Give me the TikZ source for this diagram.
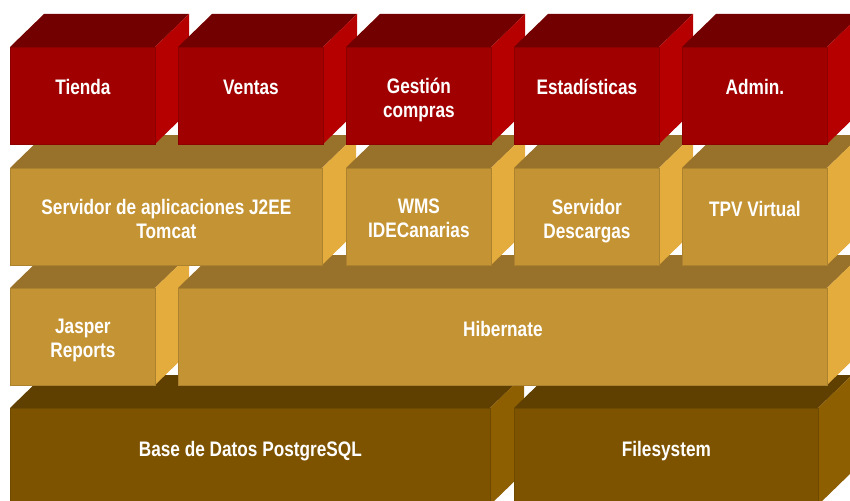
\documentclass[tikz,border=0pt]{standalone}
\usepackage{fontspec}
\setmainfont{Liberation Sans}[FakeStretch=0.82]
\definecolor{rfront}{HTML}{A00000}
\definecolor{rtop}{HTML}{730000}
\definecolor{rside}{HTML}{B60000}
\definecolor{gfront}{HTML}{C49434}
\definecolor{gtop}{HTML}{98722A}
\definecolor{gside}{HTML}{E4AC3C}
\definecolor{bfront}{HTML}{7D5300}
\definecolor{btop}{HTML}{604000}
\definecolor{bside}{HTML}{8E5F00}
\tikzset{
  lbl/.style={text=white, font=\fontsize{21}{24}\selectfont\bfseries, align=center, inner sep=0pt, anchor=north, execute at begin node=\strut},
  frontface/.style={fill=#1front, draw=#1front!88!black, line width=0.8pt, inner sep=0pt, anchor=north west, minimum height=97pt},
  topface/.style={fill=#1top},
  sideface/.style={fill=#1side}
}
\newcommand\mybox[6]{%
  \fill[topface=#5] (#2,#3) -- ++(34,-33) -- ++(#4,0) -- ++(-34,33) -- cycle;
  \fill[sideface=#5] (#2+#4,#3) -- ++(34,-33) -- ++(0,97) -- ++(-34,33) -- cycle;
  \node[frontface=#5, minimum width=#4pt] (#1) at (#2,#3) {};
  \node[lbl] (#1t) at ([yshift=-31pt]#1.north) {#6};
}
\begin{document}
\begin{tikzpicture}[x=1pt,y=-1pt]
\useasboundingbox (0,0) rectangle (850,500);
\clip (0,0) rectangle (850,500);
% row 4
\mybox{bd}{10}{408}{480}{b}{Base de Datos PostgreSQL}
\mybox{fs}{514}{408}{304}{b}{Filesystem}
% row 3
\mybox{jr}{10}{288}{145}{g}{Jasper\\Reports}
\mybox{hb}{178}{288}{649}{g}{Hibernate}
% row 2
\mybox{sa}{10}{168}{312}{g}{Servidor de aplicaciones J2EE\\Tomcat}
\mybox{wms}{346}{168}{145}{g}{WMS\\IDECanarias}
\mybox{sd}{514}{168}{145}{g}{Servidor\\Descargas}
\mybox{tpv}{682}{168}{145}{g}{TPV Virtual}
% row 1
\mybox{ti}{10}{47}{145}{r}{Tienda}
\mybox{ve}{178}{47}{145}{r}{Ventas}
\mybox{gc}{346}{47}{145}{r}{Gestión\\compras}
\mybox{es}{514}{47}{145}{r}{Estadísticas}
\mybox{ad}{682}{47}{145}{r}{Admin.}
\end{tikzpicture}
\end{document}
